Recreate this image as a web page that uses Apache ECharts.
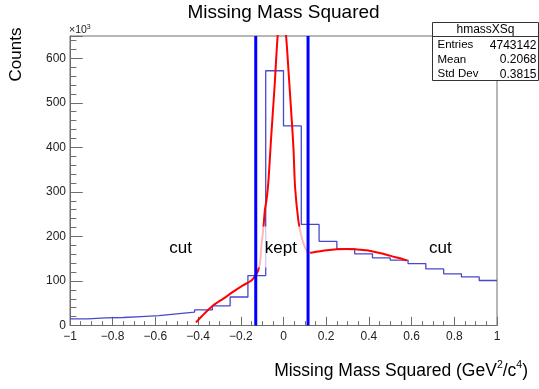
<!DOCTYPE html>
<html>
<head>
<meta charset="utf-8">
<script src="https://cdn.jsdelivr.net/npm/echarts@6/dist/echarts.min.js"></script>
<style>
  html, body { margin: 0; padding: 0; background: #fff; }
  #chart { width: 539px; height: 389px; }
</style>
</head>
<body>
<div id="chart"></div>
<script>
// Histogram range and bin contents (counts in units of 10^3)
const X_MIN = -1;
const X_MAX = 1;
const binCounts = [15, 17, 18, 20, 22, 26, 30, 35, 44, 64, 112, 572,
                   448, 227, 189, 172, 161, 152, 147, 139, 127, 116, 109, 101];

// Fitted curve (x, counts/10^3)
const fitX = [-0.41, -0.37, -0.33, -0.28, -0.235, -0.19, -0.15, -0.129, -0.118, -0.110,
              -0.102, -0.095, -0.087, -0.079, -0.070, -0.0585, -0.042, -0.027, -0.008,
              0.0117, 0.026, 0.040, 0.047, 0.054, 0.069, 0.082, 0.094, 0.109,
              0.116, 0.16, 0.204, 0.25, 0.296, 0.34, 0.39, 0.44, 0.483, 0.52, 0.546, 0.577];
const fitY = [7, 27, 45, 61, 76, 90, 101, 114, 125, 141,
              186, 215, 260, 283, 328, 418, 535, 652, 730,
              652, 553, 451, 395, 312, 238, 204, 184, 167,
              163, 166, 169, 171, 172, 171, 169, 164, 159, 154, 151, 146];

// Selection cut boundaries
const cutEdges = [-0.13, 0.115];

// Region labels
const regionLabels = ['cut', 'kept', 'cut'];
const regionLabelX = [-0.482, -0.012, 0.735];
const regionLabelY = 173;

// "kept" label backdrop, in axis units: [x0, x1, y0, y1]
const keptBackdrop = [-0.12, 0.125, 130, 222];

// Statistics panel
const statsName = 'hmassXSq';
const statsRows = [['Entries', '4743142'], ['Mean', '0.2068'], ['Std Dev', '0.3815']];

const FONT = '"Liberation Sans", Arial, Helvetica, sans-serif';
const AXIS_COLOR = '#6e6e6e';

// Step outline of the histogram from the bin edges
const binW = (X_MAX - X_MIN) / binCounts.length;
const histPts = [];
binCounts.forEach((v, i) => {
  const x0 = X_MIN + i * binW;
  histPts.push([x0, v], [x0 + binW, v]);
});

const fitPts = fitX.map((x, i) => [x, fitY[i]]);

const fmtX = v => {
  const r = Math.round(v * 10) / 10;
  if (r === 0) return '0';
  return (r < 0 ? '\u2212' : '') + String(Math.abs(r));
};

const chart = echarts.init(document.getElementById('chart'), null, { renderer: 'canvas' });

const option = {
  animation: false,
  backgroundColor: '#fff',
  grid: {
    left: 70, right: 42, top: 36, bottom: 63.5,
    show: true, borderColor: AXIS_COLOR, borderWidth: 1, backgroundColor: 'transparent'
  },
  xAxis: {
    type: 'value', min: X_MIN, max: X_MAX, interval: 0.2,
    axisLine: { show: true, onZero: false, lineStyle: { color: AXIS_COLOR, width: 1 } },
    axisTick: { show: true, inside: true, length: 8.7, lineStyle: { color: AXIS_COLOR } },
    minorTick: { show: true, splitNumber: 4, length: 4.3, lineStyle: { color: AXIS_COLOR } },
    splitLine: { show: false },
    axisLabel: { margin: 5, fontFamily: FONT, fontSize: 12, color: '#222', formatter: fmtX,
                 showMinLabel: true, showMaxLabel: true }
  },
  yAxis: [
    {
      type: 'value', min: 0, max: 650, interval: 100, position: 'left',
      axisLine: { show: true, onZero: false, lineStyle: { color: AXIS_COLOR, width: 1 } },
      axisTick: { show: true, inside: true, length: 12.8, lineStyle: { color: AXIS_COLOR } },
      splitLine: { show: false },
      axisLabel: { margin: 4, fontFamily: FONT, fontSize: 12, color: '#222',
                   formatter: v => (v % 100 === 0 ? String(v) : '') }
    },
    {
      type: 'value', min: 0, max: 650, interval: 20, position: 'left', offset: 0,
      axisLine: { show: false, onZero: false },
      axisTick: { show: true, inside: true, length: 6.4, lineStyle: { color: AXIS_COLOR } },
      splitLine: { show: false },
      axisLabel: { show: false }
    }
  ],
  series: [
    {
      name: 'hmassXSq', type: 'line', data: histPts, yAxisIndex: 0,
      symbol: 'none', clip: true, z: 2,
      lineStyle: { color: '#4848cc', width: 1.3 }
    },
    {
      name: 'fit', type: 'line', data: fitPts, yAxisIndex: 0,
      symbol: 'none', smooth: 0.25, clip: true, z: 3,
      lineStyle: { color: '#ff0000', width: 2 }
    },
    {
      name: 'keptBackdrop', type: 'custom', yAxisIndex: 0, z: 4, silent: true,
      data: [keptBackdrop],
      renderItem: (params, api) => {
        const p0 = api.coord([api.value(0), api.value(3)]);
        const p1 = api.coord([api.value(1), api.value(2)]);
        return {
          type: 'rect',
          shape: { x: p0[0], y: p0[1], width: p1[0] - p0[0], height: p1[1] - p0[1] },
          style: { fill: 'rgba(255,255,255,0.72)' }
        };
      }
    },
    ...cutEdges.map((c, i) => ({
      name: 'cut' + i, type: 'line', yAxisIndex: 0, z: 5,
      data: [[c, 0], [c, 650]], symbol: 'none',
      lineStyle: { color: '#0000ff', width: 3 }
    })),
    {
      name: 'regionLabels', type: 'custom', yAxisIndex: 0, z: 6, silent: true,
      data: regionLabels.map((t, i) => [regionLabelX[i], regionLabelY, i]),
      renderItem: (params, api) => {
        const p = api.coord([api.value(0), api.value(1)]);
        return {
          type: 'text',
          style: {
            x: p[0], y: p[1], text: regionLabels[api.value(2)],
            fontFamily: FONT, fontSize: 17, fill: '#000',
            align: 'center', verticalAlign: 'middle'
          }
        };
      }
    }
  ],
  graphic: [
    {
      type: 'text', x: 283.5, y: 12.5, z: 10,
      style: { text: 'Missing Mass Squared', fontFamily: FONT, fontSize: 19,
               fill: '#000', align: 'center', verticalAlign: 'middle' }
    },
    {
      type: 'text', x: 16.5, y: 54.5, rotation: Math.PI / 2, z: 10,
      style: { text: 'Counts', fontFamily: FONT, fontSize: 17,
               fill: '#000', align: 'center', verticalAlign: 'middle' }
    },
    {
      type: 'text', x: 528, y: 371, z: 10,
      style: {
        text: 'Missing Mass Squared (GeV{sup|2}/c{sup|4})',
        fontFamily: FONT, fontSize: 17.5, fill: '#000', lineHeight: 22,
        align: 'right', verticalAlign: 'middle',
        rich: { sup: { fontFamily: FONT, fontSize: 10.5, verticalAlign: 'top', lineHeight: 14, fill: '#000' } }
      }
    },
    {
      type: 'text', x: 69, y: 30, z: 10,
      style: {
        text: '\u00d710{sup|3}', fontFamily: FONT, fontSize: 10.5, fill: '#222', lineHeight: 12,
        align: 'left', verticalAlign: 'middle',
        rich: { sup: { fontFamily: FONT, fontSize: 7, verticalAlign: 'top', lineHeight: 8, fill: '#222' } }
      }
    },
    {
      type: 'group', z: 20,
      children: [
        { type: 'rect', shape: { x: 432.5, y: 22.5, width: 106, height: 58 },
          style: { fill: '#fff', stroke: '#333', lineWidth: 1 } },
        { type: 'line', shape: { x1: 432.5, y1: 36.5, x2: 538.5, y2: 36.5 },
          style: { stroke: '#333', lineWidth: 1 } },
        { type: 'text', x: 485.5, y: 29.8,
          style: { text: statsName, fontFamily: FONT, fontSize: 12, fill: '#000',
                   align: 'center', verticalAlign: 'middle' } },
        ...statsRows.flatMap((r, i) => [
          { type: 'text', x: 437.5, y: 45.3 + i * 14.5,
            style: { text: r[0], fontFamily: FONT, fontSize: 11.5, fill: '#000',
                     align: 'left', verticalAlign: 'middle' } },
          { type: 'text', x: 536.5, y: 45.3 + i * 14.5,
            style: { text: r[1], fontFamily: FONT, fontSize: 12, fill: '#000',
                     align: 'right', verticalAlign: 'middle' } }
        ])
      ]
    }
  ]
};

chart.setOption(option);
</script>
</body>
</html>
